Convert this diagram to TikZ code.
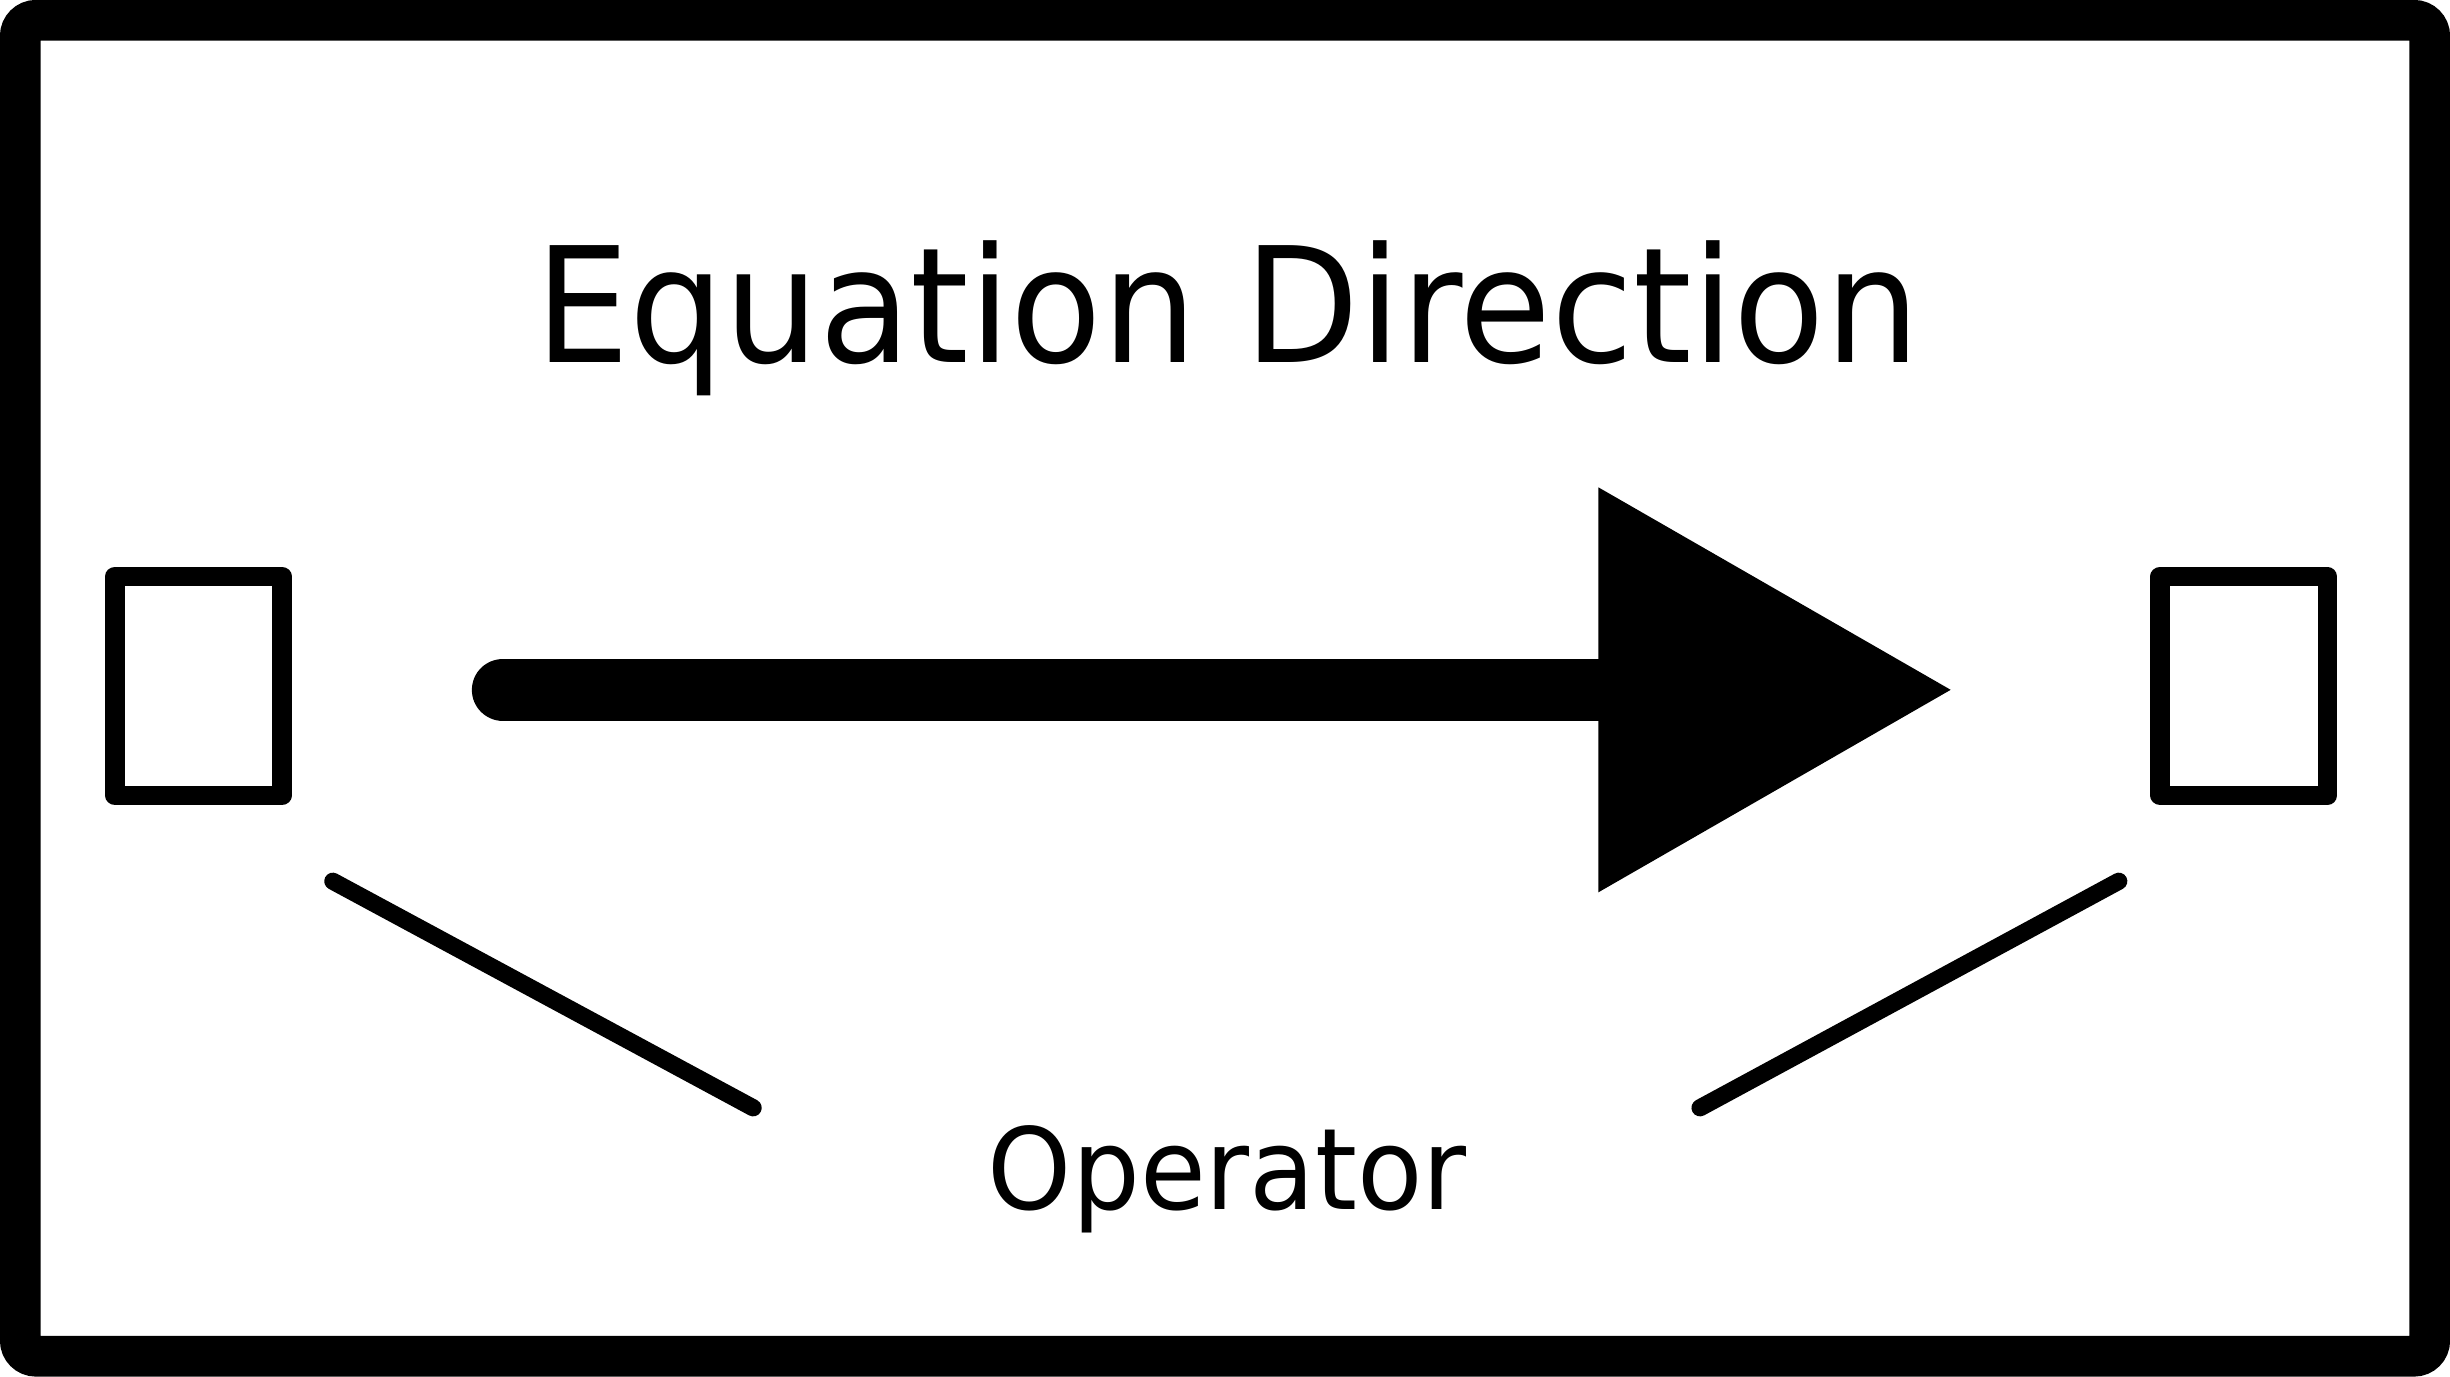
\documentclass[tikz,border=0pt]{standalone}
\usepackage{fontspec}
\setmainfont{DejaVu Sans}
\usetikzlibrary{arrows.meta}

\tikzset{
	slot/.style={draw, line width=0.125cm, line join=round, minimum width=1.07cm, minimum height=1.40cm, inner sep=0pt},
	link/.style={line width=0.11cm, line cap=round},
}

\begin{document}
\begin{tikzpicture}
			%%%%% START %%%%%
			
			\useasboundingbox (0, 0) rectangle (15.68, 8.81);
			\draw[line width=0.26cm, rounded corners=0.1cm] (0.13, 0.13) rectangle (15.55, 8.68);
			
			\node[anchor=base, inner sep=0pt, font=\fontsize{29.2}{35}\selectfont] (title) at (7.855, 6.49) {\scalebox{0.932}[1]{Equation Direction}};
			\node[anchor=base, inner sep=0pt, font=\fontsize{20.6}{25}\selectfont] (operator) at (7.855, 1.07) {\scalebox{0.946}[1]{Operator}};
			
			\node[slot] (left) at (1.27, 4.42) {};
			\node[slot] (right) at (14.36, 4.42) {};
			
			\coordinate (tail) at (3.22, 4.395);
			\coordinate (tip) at (12.50, 4.395);
			\draw[line width=0.4cm, line cap=round, -{Triangle[length=2.27cm, width=2.48cm]}] (tail) -- (tip);
			
			\coordinate (la) at (2.13, 3.17);
			\coordinate (lb) at (4.82, 1.72);
			\coordinate (ra) at (13.56, 3.17);
			\coordinate (rb) at (10.88, 1.72);
			\draw[link] (la) -- (lb);
			\draw[link] (ra) -- (rb);
			
			%%%%% END %%%%%
\end{tikzpicture}
\end{document}
